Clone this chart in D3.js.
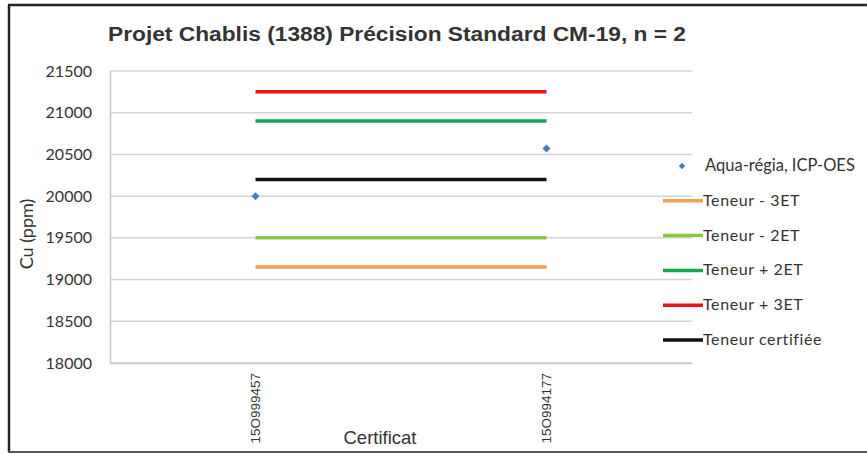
<!DOCTYPE html>
<html>
<head>
<meta charset="utf-8">
<script src="https://cdn.jsdelivr.net/npm/d3@7"></script>
<style>
  body { margin: 0; background: #fff; }
  text { fill: #333; }
</style>
</head>
<body>
<div id="chart"></div>
<script>
// data
const certificats = ["15O999457", "15O994177"];
const aquaRegia = [20000, 20570];
const teneurCertifiee = 20200;
const ecartType = 350;
const yTicks = [18000, 18500, 19000, 19500, 20000, 20500, 21000, 21500];

const limites = [
  { name: "Teneur - 3ET", value: teneurCertifiee - 3 * ecartType, color: "#f5a04a" },
  { name: "Teneur - 2ET", value: teneurCertifiee - 2 * ecartType, color: "#8cc63e" },
  { name: "Teneur + 2ET", value: teneurCertifiee + 2 * ecartType, color: "#13a650" },
  { name: "Teneur + 3ET", value: teneurCertifiee + 3 * ecartType, color: "#e8141c" },
  { name: "Teneur certifiée", value: teneurCertifiee, color: "#111111" }
];

const W = 867, H = 454;
const m = { left: 110, right: W - 692, top: 71, bottom: H - 363 };

const svg = d3.select("#chart").append("svg")
  .attr("width", W).attr("height", H);

// scanned frame
svg.append("line").attr("x1", 9).attr("x2", 9).attr("y1", 5).attr("y2", 452)
  .attr("stroke", "#222").attr("stroke-width", 2.5);
svg.append("line").attr("x1", 8).attr("x2", W).attr("y1", 5).attr("y2", 5)
  .attr("stroke", "#222").attr("stroke-width", 2.5);
svg.append("line").attr("x1", 8).attr("x2", W).attr("y1", 452).attr("y2", 452)
  .attr("stroke", "#555").attr("stroke-width", 2);

const x = d3.scalePoint().domain(certificats)
  .range([m.left, W - m.right]).padding(0.5);
const y = d3.scaleLinear().domain([18000, 21500])
  .range([H - m.bottom, m.top]);

// gridlines
svg.append("g").selectAll("line").data(yTicks).join("line")
  .attr("x1", m.left).attr("x2", W - m.right)
  .attr("y1", d => y(d)).attr("y2", d => y(d))
  .attr("stroke", "#d4d4d4").attr("stroke-width", 1.5);

// y axis
const yAxis = svg.append("g").attr("transform", `translate(${m.left},0)`)
  .call(d3.axisLeft(y).tickValues(yTicks).tickSize(0).tickPadding(18).tickFormat(d3.format("d")));
yAxis.select(".domain").attr("stroke", "#c8c8c8").attr("stroke-width", 1.5);
yAxis.selectAll("text").attr("font-family", "Lato, sans-serif").attr("font-size", 16)
  .attr("fill", "#444");

// x axis
const xAxis = svg.append("g").attr("transform", `translate(0,${H - m.bottom})`)
  .call(d3.axisBottom(x).tickSize(0).tickFormat(""));
xAxis.select(".domain").attr("stroke", "#c8c8c8").attr("stroke-width", 1.5);

svg.append("g").selectAll("text").data(certificats).join("text")
  .attr("transform", d => `translate(${x(d) + 4},${H - m.bottom + 10}) rotate(-90)`)
  .attr("text-anchor", "end")
  .attr("font-family", "Liberation Sans, Arial, sans-serif")
  .attr("font-size", 13.5)
  .attr("fill", "#555")
  .text(d => d);

// limit lines
const line = d3.line().x(d => x(d[0])).y(d => y(d[1]));
limites.forEach(l => {
  svg.append("path")
    .datum(certificats.map(c => [c, l.value]))
    .attr("d", line)
    .attr("fill", "none")
    .attr("stroke", l.color)
    .attr("stroke-width", 3.5);
});

// points (Excel-style diamond = square turned 45 deg)
svg.append("g").selectAll("path").data(aquaRegia).join("path")
  .attr("transform", (d, i) => `translate(${x(certificats[i])},${y(d)}) rotate(45)`)
  .attr("d", d3.symbol(d3.symbolSquare, 32))
  .attr("fill", "#4a7ebb");

// title
svg.append("text")
  .attr("x", 108).attr("y", 41)
  .attr("font-family", "Liberation Sans, Arial, sans-serif")
  .attr("font-weight", "bold")
  .attr("font-size", 20)
  .attr("textLength", 578).attr("lengthAdjust", "spacingAndGlyphs")
  .attr("fill", "#333")
  .text("Projet Chablis (1388) Précision Standard CM-19, n = 2");

// axis titles
svg.append("text")
  .attr("transform", "translate(33,234) rotate(-90)")
  .attr("text-anchor", "middle")
  .attr("font-family", "Lato, sans-serif")
  .attr("font-size", 18)
  .attr("fill", "#333")
  .text("Cu (ppm)");

svg.append("text")
  .attr("x", 380).attr("y", 444)
  .attr("text-anchor", "middle")
  .attr("font-family", "Liberation Sans, Arial, sans-serif")
  .attr("font-size", 18.5)
  .attr("fill", "#333")
  .text("Certificat");

// legend
const leg = svg.append("g").attr("transform", "translate(663,166)");
leg.append("path").attr("transform", "translate(19,0) rotate(45)")
  .attr("d", d3.symbol(d3.symbolSquare, 20)).attr("fill", "#4a7ebb");
leg.append("text").attr("x", 42).attr("y", 5)
  .attr("font-family", "Lato, sans-serif").attr("font-size", 16.5).attr("fill", "#333")
  .text("Aqua-régia, ICP-OES");
limites.forEach((l, i) => {
  const g = leg.append("g").attr("transform", `translate(0,${(i + 1) * 34.8})`);
  g.append("line").attr("x1", 0).attr("x2", 40)
    .attr("stroke", l.color).attr("stroke-width", 3.5);
  g.append("text").attr("x", 40).attr("y", 5)
    .attr("font-family", "Lato, sans-serif").attr("font-size", 16).attr("fill", "#333")
    .attr("letter-spacing", 0.6)
    .text(l.name);
});
</script>
</body>
</html>
